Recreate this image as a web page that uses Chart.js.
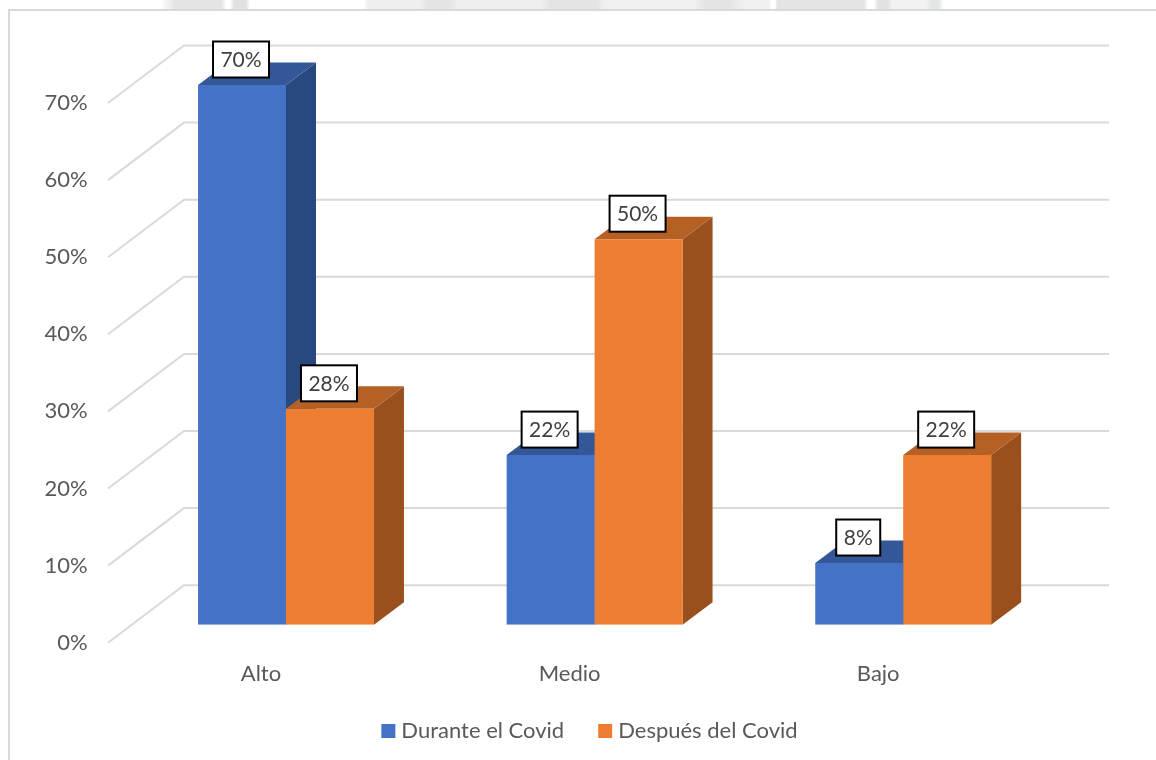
<!DOCTYPE html>
<html lang="es">
<head>
<meta charset="utf-8">
<title>Durante y después del Covid</title>
<script src="https://cdn.jsdelivr.net/npm/chart.js@4"></script>
<style>
html,body{margin:0;padding:0;background:#fff;width:1156px;height:760px;overflow:hidden}
#wrap{position:relative;width:1156px;height:760px}
#strip{position:absolute;left:0;top:0;width:1156px;height:10px;
background:linear-gradient(90deg,#fff 0,#fff 160px,#e3e6e0 175px,#e3e6e0 222px,#fff 226px,#fff 230px,#dfe3dd 234px,#dfe3dd 246px,#fff 250px,#fff 364px,#eef0ed 368px,#eef0ed 420px,#e3e6e0 428px,#e3e6e0 450px,#eef0ed 458px,#eef0ed 540px,#e3e6e0 550px,#e3e6e0 598px,#eff1ee 604px,#eff1ee 695px,#e3e6e0 705px,#e3e6e0 730px,#eff1ee 745px,#eff1ee 768px,#fff 772px,#fff 775px,#e2e6e0 777px,#e2e6e0 864px,#fff 868px,#fff 874px,#e0e4de 878px,#e0e4de 888px,#f2f3f1 892px,#f2f3f1 926px,#e2e6e0 932px,#e2e6e0 938px,#fff 944px,#fff 100%)}
#frame{position:absolute;left:8px;top:9px;width:1148px;height:751px;border-left:2px solid #d9d9d9;border-top:2px solid #d9d9d9;box-sizing:border-box}
canvas{position:absolute;left:0;top:0}
</style>
</head>
<body>
<div id="wrap">
<div id="strip"></div>
<div id="frame"></div>
<canvas id="c" width="1156" height="760"></canvas>
</div>
<script>
const categories = ['Alto', 'Medio', 'Bajo'];
const durante = [70, 22, 8];
const despues = [28, 50, 22];
const seriesNames = ['Durante el Covid', 'Después del Covid'];
const yTicks = [0, 10, 20, 30, 40, 50, 60, 70];

const FONT = 'Lato';
const FS = 22;
const LABEL_FS = 21;
const TEXT = '#595959';
const GRID = '#d9d9d9';
const SHADES = [
  { side: '#2a4880', top: '#335797' },
  { side: '#99501c', top: '#b56024' }
];
const DEPTH = { x: 30, y: 22.5 };      // bar depth
const SHIFT = { x: 25, y: 18 };        // bar plane vs. front plane
const WALL = { x: 76, y: 57.5, right: 1109 };

const threeD = {
  id: 'threeD',
  beforeLayout(chart) {
    const l = chart.legend;
    if (!l._fitWrapped) {
      const fit = l.fit;
      l.fit = function () { fit.call(this); this.height = 40; };
      l._fitWrapped = true;
    }
  },
  afterLayout(chart) {
    const l = chart.legend;
    const dx = 14;
    l.left = dx; l.right = 1156 + dx;
    l.top = 731 - l.options.labels.padding - FS / 2;
    l.bottom = 760;
  },
  beforeDatasetsDraw(chart) {
    const ctx = chart.ctx, y = chart.scales.y;
    const x0 = chart.chartArea.left + 1.3;
    ctx.save();
    ctx.strokeStyle = GRID;
    ctx.lineWidth = 2;
    yTicks.forEach(v => {
      const py = y.getPixelForValue(v);
      ctx.beginPath();
      ctx.moveTo(x0, py);
      ctx.lineTo(x0 + WALL.x, py - WALL.y);
      ctx.lineTo(WALL.right, py - WALL.y);
      ctx.stroke();
    });
    ctx.restore();
    ctx.save();
    ctx.translate(SHIFT.x, -SHIFT.y);
    chart.data.datasets.forEach((ds, d) => {
      chart.getDatasetMeta(d).data.forEach(bar => {
        const l = bar.x - bar.width / 2, r = bar.x + bar.width / 2;
        ctx.fillStyle = SHADES[d].side;
        ctx.beginPath();
        ctx.moveTo(r, bar.y);
        ctx.lineTo(r + DEPTH.x, bar.y - DEPTH.y);
        ctx.lineTo(r + DEPTH.x, bar.base - DEPTH.y);
        ctx.lineTo(r, bar.base);
        ctx.closePath();
        ctx.fill();
        ctx.fillStyle = SHADES[d].top;
        ctx.beginPath();
        ctx.moveTo(l, bar.y);
        ctx.lineTo(l + DEPTH.x, bar.y - DEPTH.y);
        ctx.lineTo(r + DEPTH.x, bar.y - DEPTH.y);
        ctx.lineTo(r, bar.y);
        ctx.closePath();
        ctx.fill();
      });
    });
    ctx.restore();
    ctx.save();
    ctx.translate(SHIFT.x, -SHIFT.y);
  },
  afterDatasetsDraw(chart) {
    const ctx = chart.ctx;
    ctx.restore();
    ctx.save();
    ctx.font = LABEL_FS + 'px ' + FONT;
    ctx.textAlign = 'center';
    ctx.textBaseline = 'middle';
    chart.data.datasets.forEach((ds, d) => {
      chart.getDatasetMeta(d).data.forEach((bar, i) => {
        const t = ds.data[i] + '%';
        const w = Math.round(ctx.measureText(t).width) + 15;
        const h = 36;
        const cx = bar.x + SHIFT.x - 1;
        const cy = bar.y - SHIFT.y - 25.5;
        ctx.fillStyle = '#fff';
        ctx.strokeStyle = '#000';
        ctx.lineWidth = 2;
        ctx.fillRect(cx - w / 2, cy - h / 2, w, h);
        ctx.strokeRect(cx - w / 2, cy - h / 2, w, h);
        ctx.fillStyle = '#404040';
        ctx.fillText(t, cx, cy + 1);
      });
    });
    ctx.restore();
  }
};

new Chart(document.getElementById('c'), {
  type: 'bar',
  data: {
    labels: categories,
    datasets: [
      { label: seriesNames[0], data: durante, backgroundColor: '#4472c4', borderWidth: 0,
        categoryPercentage: 0.57, barPercentage: 1 },
      { label: seriesNames[1], data: despues, backgroundColor: '#ed7d31', borderWidth: 0,
        categoryPercentage: 0.57, barPercentage: 1 }
    ]
  },
  plugins: [threeD],
  options: {
    responsive: false,
    animation: false,
    devicePixelRatio: 1,
    layout: { padding: { top: 103, right: 123.5, left: 0, bottom: 0 } },
    plugins: {
      tooltip: { enabled: false },
      title: { display: false },
      legend: {
        position: 'bottom',
        labels: {
          usePointStyle: true,
          pointStyle: 'rect',
          boxWidth: 4,
          boxHeight: 14,
          padding: 39,
          color: TEXT,
          font: { family: FONT, size: FS }
        }
      }
    },
    scales: {
      x: {
        grid: { display: false, drawTicks: false },
        border: { display: false },
        ticks: { color: TEXT, font: { family: FONT, size: FS }, padding: 18, maxRotation: 0 },
        afterFit(s) { s.height = 77.3; }
      },
      y: {
        min: 0,
        max: 70,
        grid: { display: false, drawTicks: false },
        border: { display: false },
        ticks: {
          stepSize: 10,
          color: TEXT,
          font: { family: FONT, size: FS },
          padding: 19,
          callback: v => v + '%'
        },
        afterFit(s) { s.width = 106.7; }
      }
    }
  }
});
</script>
</body>
</html>
